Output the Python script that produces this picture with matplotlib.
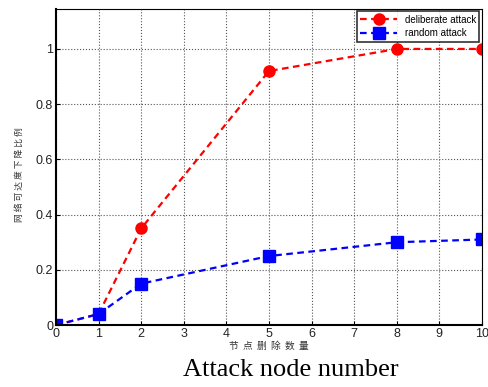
import matplotlib
matplotlib.use('Agg')
import matplotlib.pyplot as plt

# data
nodes = [0, 1, 2, 5, 8, 10]
deliberate = [0, 0.04, 0.35, 0.92, 1.0, 1.0]
random_attack = [0, 0.04, 0.15, 0.25, 0.30, 0.31]
xticks = list(range(0, 11))
yticks = [0, 0.2, 0.4, 0.6, 0.8, 1]
ytick_labels = ['0', '0.2', '0.4', '0.6', '0.8', '1']

plt.rcParams['font.family'] = ['Liberation Sans', 'Noto Sans CJK SC']

fig = plt.figure(figsize=(4.89, 3.87), dpi=100)
ax = fig.add_axes([0.1145, 0.160, 0.871, 0.817])

ax.plot(nodes, deliberate, 'r--', marker='o', markersize=8, linewidth=1.6,
        dashes=(3, 2), label='deliberate attack')
ax.plot(nodes, random_attack, 'b--', marker='s', markersize=8, linewidth=1.6,
        dashes=(3, 2), label='random attack')

ax.set_xlim(0, 10)
ax.set_ylim(0, 1.145)
ax.set_xticks(xticks)
ax.set_yticks(yticks)
ax.set_yticklabels(ytick_labels)
ax.tick_params(direction='in', labelsize=9, length=3, pad=2, labelcolor='#222222')
ax.grid(True, linestyle=':', color='#555555', linewidth=0.8)
for s in ax.spines.values():
    s.set_linewidth(0.8)
ax.spines['left'].set_linewidth(1.5)
ax.spines['bottom'].set_linewidth(1.5)

ax.set_ylabel(' '.join('网络可达度下降比例'), family=['Noto Sans CJK SC'],
              fontsize=6.3, color='#333333')
ax.yaxis.set_label_coords(-0.076, 0.475)
ax.set_xlabel('  '.join('节点删除数量'), family=['Noto Sans CJK SC'],
              fontsize=7, labelpad=1, color='#333333')
fig.text(0.595, 0.043, 'Attack node number', family='Liberation Serif',
         fontsize=19, ha='center', va='center')

leg = ax.legend(loc='upper right', fontsize=7, frameon=True, fancybox=False,
                borderpad=0.35, handlelength=3.8, labelspacing=0.35,
                borderaxespad=0.25, markerscale=1.0)
leg.get_frame().set_edgecolor('black')
leg.get_frame().set_linewidth(1.2)

fig.savefig('out.png', dpi=100)
